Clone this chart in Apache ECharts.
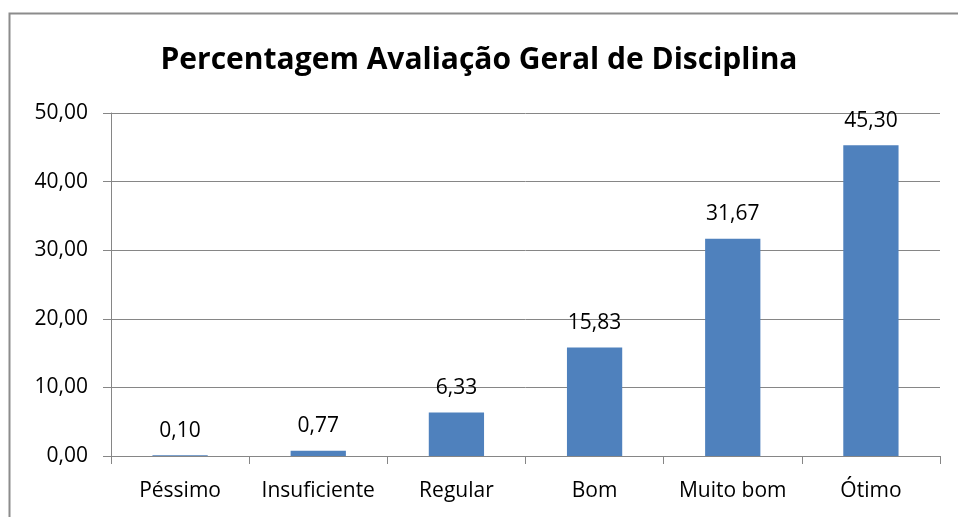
<!DOCTYPE html>
<html><head><meta charset="utf-8">
<script src="https://cdn.jsdelivr.net/npm/echarts@6/dist/echarts.min.js"></script>
<style>html,body{margin:0;padding:0;background:#fff}#c{width:958px;height:517px}</style>
</head><body><div id="c"></div>
<script>
const categories = ['Péssimo','Insuficiente','Regular','Bom','Muito bom','Ótimo'];
const values = [0.10, 0.77, 6.33, 15.83, 31.67, 45.30];
const yTicks = [0, 10, 20, 30, 40, 50];
const fmt = v => Number(v).toFixed(2).replace('.', ',');
const font = '"Open Sans", Lato, sans-serif';
const chart = echarts.init(document.getElementById('c'));
chart.setOption({
  animation: false,
  backgroundColor: '#fff',
  graphic: [{type:'rect', shape:{x:9.5,y:13.5,width:1000,height:600}, style:{fill:'none', stroke:'#8c8c8c', lineWidth:2}, silent:true}],
  title: {text:'Percentagem Avaliação Geral de Disciplina', left:'center', top:40,
    textStyle:{fontFamily:font, fontSize:30, fontWeight:'bold', color:'#000'}},
  grid: {left:111, right:18, top:113, bottom:61},
  xAxis: {type:'category', data:categories,
    axisLine:{lineStyle:{color:'#868686'}},
    axisTick:{show:true, length:8, lineStyle:{color:'#868686'}},
    axisLabel:{fontFamily:font, fontSize:21, color:'#000', margin:25, interval:0}},
  yAxis: {type:'value', min:yTicks[0], max:yTicks[yTicks.length-1], interval:10,
    axisLine:{show:true, lineStyle:{color:'#868686'}},
    axisTick:{show:true, length:8, lineStyle:{color:'#868686'}},
    splitLine:{lineStyle:{color:'#868686'}},
    axisLabel:{fontFamily:font, fontSize:21, color:'#000', margin:23, formatter:fmt}},
  series: [{type:'bar', data:values, barWidth:'40%', itemStyle:{color:'#4F81BD'},
    label:{show:true, position:'top', distance:14, fontFamily:font, fontSize:21, color:'#000', formatter:p=>fmt(p.value)}}]
});
</script></body></html>
